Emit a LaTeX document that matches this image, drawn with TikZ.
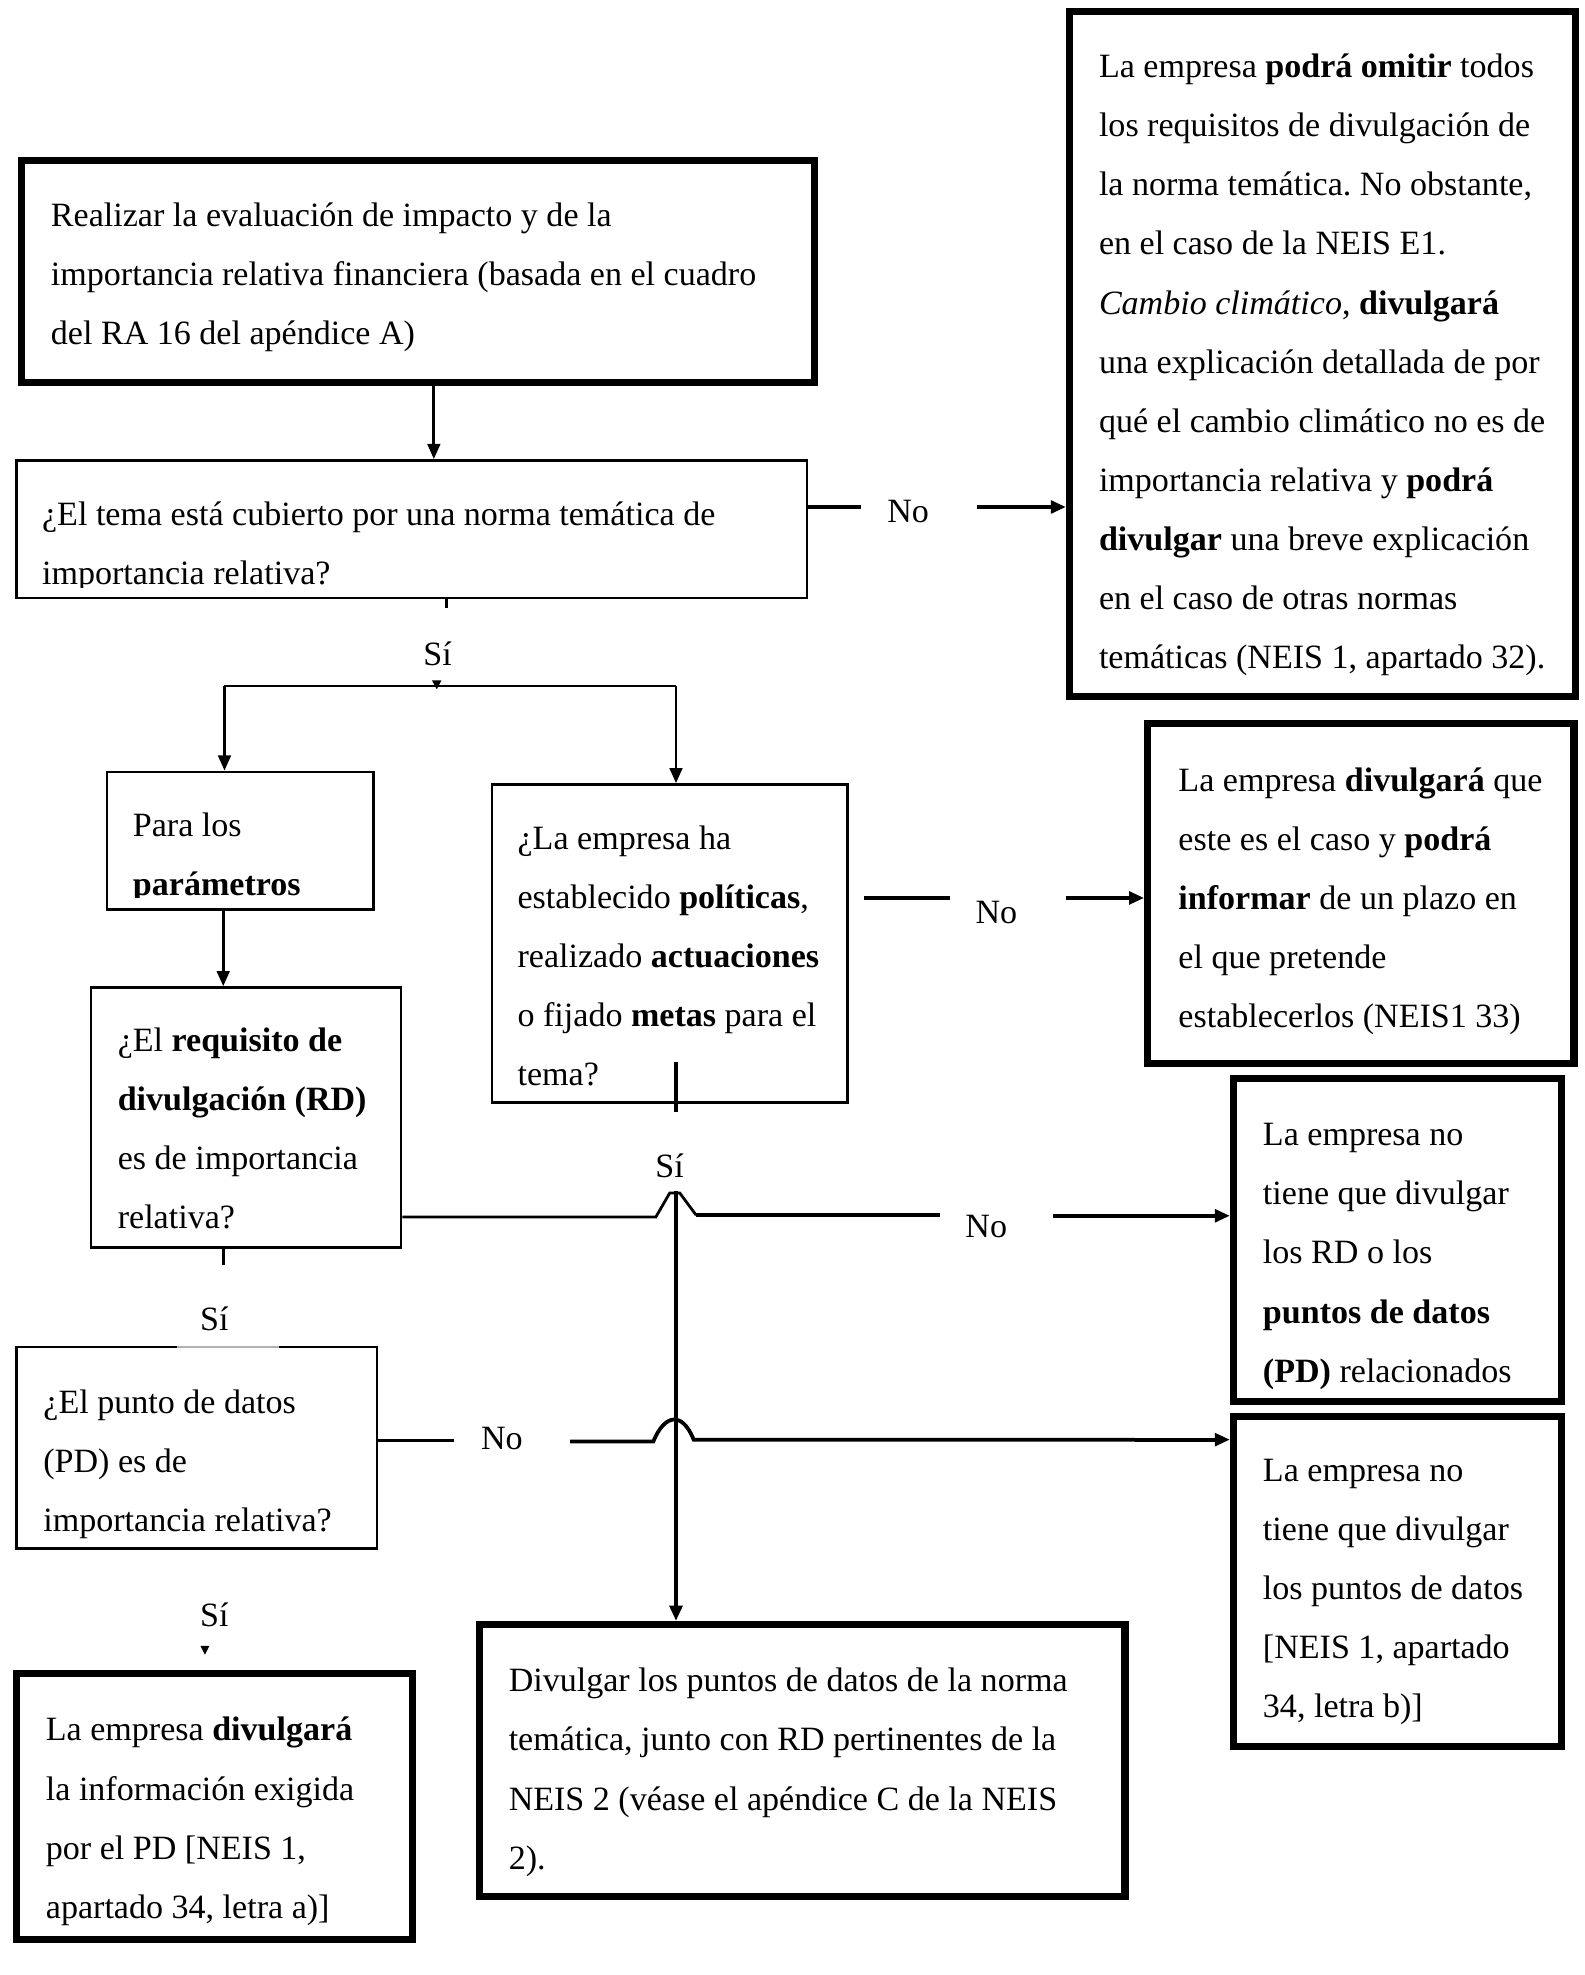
\documentclass[tikz,border=0pt]{standalone}
\usepackage{fontspec}
\setmainfont{Liberation Serif}
\usetikzlibrary{arrows.meta,fit,calc}
\frenchspacing
\newcommand\fsz{\fontsize{13.5pt}{23.45pt}\selectfont}
\newcommand\tst{\rule{0pt}{11pt}}
\begin{document}
\begin{tikzpicture}[x=0.5pt,y=-0.5pt,
  thinbox/.style={draw, line width=1pt, inner sep=0pt},
  thickbox/.style={draw, line width=2.8pt, inner sep=0pt},
  txt/.style={anchor=north west, inner sep=0pt, align=left, font=\fsz},
  lbl/.style={anchor=base, inner sep=0pt, font=\fsz},
  conn/.style={line width=1.1pt},
  connb/.style={line width=1.5pt},
  tip/.style={-{Triangle[length=6pt,width=5pt]}}]
\useasboundingbox (0,0) rectangle (1256,1566);

% boxes
\node[thickbox, fit={(17,127) (646,303)}] (A) {};
\node[thinbox,  fit={(13,365) (640,474)}] (B) {};
\node[thickbox, fit={(848,9) (1249,552)}] (C) {};
\node[thinbox,  fit={(85,612) (296,721)}] (D) {};
\node[thinbox,  fit={(390,622) (672,874)}] (E) {};
\node[thickbox, fit={(910,574) (1248,843)}] (G) {};
\node[thinbox,  fit={(72,783) (318,989)}] (F) {};
\node[thickbox, fit={(978,855) (1238,1111)}] (H) {};
\node[thinbox,  fit={(13,1068) (299,1228)}] (J) {};
\node[thickbox, fit={(978,1123) (1238,1385)}] (K) {};
\node[thickbox, fit={(380,1288) (892,1504)}] (I) {};
\node[thickbox, fit={(13,1327) (327,1538)}] (L) {};
\draw[white, line width=2pt] (140,1068) -- (221,1068);
\draw[black!30, line width=0.6pt] (140,1068) -- (221,1068);

% texts
\node[txt] (tA) at (40,157) {\tst Realizar la evaluación de impacto y de la\\
importancia relativa financiera (basada en el cuadro\\
del RA 16 del apéndice A)};
\begin{scope}
\clip (13,365) rectangle (640,466);
\node[txt] (tB) at (33,394) {\tst ¿El tema está cubierto por una norma temática de\\
importancia relativa?};
\end{scope}
\node[txt] (tC) at (871,39) {\tst La empresa \textbf{podrá omitir} todos\\
los requisitos de divulgación de\\
la norma temática. No obstante,\\
en el caso de la NEIS E1.\\
\textit{Cambio climático}, \textbf{divulgará}\\
una explicación detallada de por\\
qué el cambio climático no es de\\
importancia relativa y \textbf{podrá}\\
\textbf{divulgar} una breve explicación\\
en el caso de otras normas\\
temáticas (NEIS 1, apartado 32).};
\begin{scope}
\clip (85,612) rectangle (296,712);
\node[txt] (tD) at (105,641) {\tst Para los\\
\textbf{parámetros}};
\end{scope}
\node[txt] (tE) at (410,651) {\tst ¿La empresa ha\\
establecido \textbf{políticas},\\
realizado \textbf{actuaciones}\\
o fijado \textbf{metas} para el\\
tema?};
\node[txt] (tG) at (934,605) {\tst La empresa \textbf{divulgará} que\\
este es el caso y \textbf{podrá}\\
\textbf{informar} de un plazo en\\
el que pretende\\
establecerlos (NEIS1 33)};
\node[txt] (tF) at (93,811) {\tst ¿El \textbf{requisito de}\\
\textbf{divulgación (RD)}\\
es de importancia\\
relativa?};
\node[txt] (tH) at (1001,886) {\tst La empresa no\\
tiene que divulgar\\
los RD o los\\
\textbf{puntos de datos}\\
\textbf{(PD)} relacionados};
\node[txt] (tJ) at (34,1098) {\tst ¿El punto de datos\\
(PD) es de\\
importancia relativa?};
\node[txt] (tK) at (1001,1152) {\tst La empresa no\\
tiene que divulgar\\
los puntos de datos\\
{[}NEIS 1, apartado\\
34, letra b){]}};
\node[txt] (tI) at (403,1319) {\tst Divulgar los puntos de datos de la norma\\
temática, junto con RD pertinentes de la\\
NEIS 2 (véase el apéndice C de la NEIS\\
2).};
\node[txt] (tL) at (36,1358) {\tst La empresa \textbf{divulgará}\\
la información exigida\\
por el PD {[}NEIS 1,\\
apartado 34, letra a){]}};

% labels
\node[lbl] (no1) at (720,414) {No};
\node[lbl] (no2) at (790,732) {No};
\node[lbl] (no3) at (782,981) {No};
\node[lbl] (no4) at (398,1149) {No};
\node[lbl] (si1) at (347,528) {Sí};
\node[lbl] (si2) at (531,934) {Sí};
\node[lbl] (si3) at (170,1055) {Sí};
\node[lbl] (si4) at (170,1290) {Sí};

% helper coordinates
\coordinate (x344) at (344,0);
\coordinate (x354) at (354,0);
\coordinate (x178) at (178,0);
\coordinate (x536) at (536,0);
\coordinate (x177) at (177,0);
\coordinate (y402) at (0,402);
\coordinate (y712) at (0,712);
\coordinate (y964) at (0,964);
\coordinate (y965) at (0,965);
\coordinate (y1142) at (0,1142);
\coordinate (y1141) at (0,1141.5);
\coordinate (jn) at (346,544);
\coordinate (jl) at (178,544);
\coordinate (jr) at (536,544);

% A -> B
\draw[conn, tip] (A.south -| x344) -- (B.north -| x344);
% B -> C (No)
\draw[connb] (B.east |- y402) -- (683,402);
\draw[connb, tip] (775,402) -- (C.west |- y402);
% B -> Si
\draw[conn] (B.south -| x354) -- ++(0,7);
\fill (342.5,539.5) -- (350,539.5) -- (346.3,546.5) -- cycle;
\draw[conn] (jl) -- (jn) -- (jr);
\draw[conn, tip] (jl) -- (D.north -| x178);
\draw[conn, tip] (jr) -- (E.north -| x536);
% D -> F
\draw[conn, tip] (D.south -| x177) -- (F.north -| x177);
% E -> G (No)
\draw[connb] (685,712) -- (753,712);
\draw[connb, tip] (845,712) -- (G.west |- y712);
% E -> I (Si)
\draw[connb] (536,842) -- (536,882);
\draw[connb, tip] (536,944) -- (I.north -| x536);
% F -> H (No)
\draw[conn] (F.east |- y965) -- (520,965) -- (531,946) -- (539,946) -- (552,963.5);
\draw[connb] (552,963.5) -- (745,963.5);
\draw[connb, tip] (835,964) -- (H.west |- y964);
% F -> J (Si)
\draw[conn] (F.south -| x177) -- ++(0,13);
% J -> K (No)
\draw[conn] (J.east |- y1142) -- (360,1142);
\draw[connb] (452,1143) -- (518,1143) .. controls (527,1121) and (541,1119) .. (550,1141.5) -- (900,1141.5);
\draw[connb, tip] (900,1141.5) -- (K.west |- y1141);
% J -> L (Si)
\fill (159,1305) -- (166,1305) -- (162.5,1312) -- cycle;
\end{tikzpicture}
\end{document}
